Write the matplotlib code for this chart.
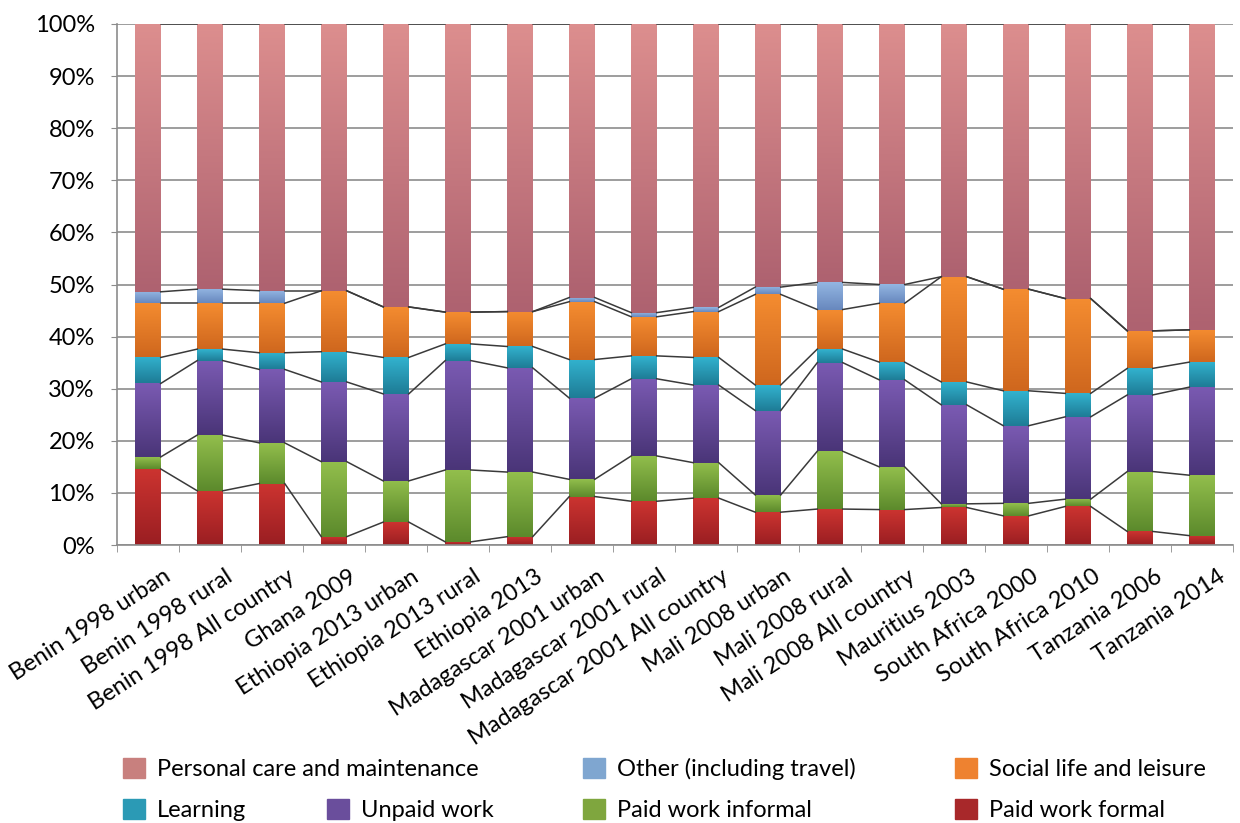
import numpy as np
import matplotlib
matplotlib.use("Agg")
import matplotlib.pyplot as plt
from matplotlib.colors import LinearSegmentedColormap
from matplotlib.patches import Patch
import matplotlib.transforms as mtransforms

plt.rcParams['font.family'] = ['Lato', 'DejaVu Sans']

countries = ['Benin 1998 urban', 'Benin 1998 rural', 'Benin 1998 All country', 'Ghana 2009',
             'Ethiopia 2013 urban', 'Ethiopia 2013 rural', 'Ethiopia 2013',
             'Madagascar 2001 urban', 'Madagascar 2001 rural', 'Madagascar 2001 All country',
             'Mali 2008 urban', 'Mali 2008 rural', 'Mali 2008 All country', 'Mauritius 2003',
             'South Africa 2000', 'South Africa 2010', 'Tanzania 2006', 'Tanzania 2014']

# shares of time, % (bottom to top)
paid_formal = [14.6, 10.4, 11.8, 1.6, 4.4, 0.6, 1.6, 9.3, 8.4, 9.0, 6.3, 6.9, 6.8, 7.2, 5.6, 7.4, 2.6, 1.8]
paid_informal = [2.3, 10.7, 7.8, 14.4, 7.9, 13.8, 12.4, 3.3, 8.7, 6.8, 3.3, 11.1, 8.2, 0.7, 2.4, 1.4, 11.5, 11.6]
unpaid = [14.1, 14.3, 14.1, 15.3, 16.7, 21.0, 20.0, 15.6, 14.8, 14.9, 16.2, 17.0, 16.7, 19.0, 14.9, 15.8, 14.7, 16.9]
learning = [5.0, 2.2, 3.2, 5.8, 7.0, 3.2, 4.1, 7.4, 4.4, 5.3, 4.9, 2.6, 3.4, 4.4, 6.7, 4.5, 5.1, 4.8]
social = [10.4, 8.8, 9.5, 11.7, 9.7, 6.1, 6.7, 11.1, 7.5, 8.8, 17.4, 7.6, 11.3, 20.2, 19.5, 18.2, 7.2, 6.2]
other = [2.2, 2.7, 2.4, 0, 0, 0, 0, 0.8, 0.8, 0.8, 1.4, 5.2, 3.6, 0, 0, 0, 0, 0]
personal = [51.4, 50.9, 51.2, 51.2, 54.3, 55.3, 55.2, 52.5, 55.4, 54.4, 50.5, 49.6, 50.0, 48.5, 50.9, 52.7, 58.9, 58.7]

series = [
    ('Paid work formal', paid_formal, '#A8282A', '#9A1E22', '#CC3430'),
    ('Paid work informal', paid_informal, '#7FA63E', '#5C8A2C', '#92BE4C'),
    ('Unpaid work', unpaid, '#6A4E9C', '#4A3578', '#7A5AB2'),
    ('Learning', learning, '#2B9AB5', '#1E7C96', '#32B2CE'),
    ('Social life and leisure', social, '#EE8230', '#CF671E', '#F48C30'),
    ('Other (including travel)', other, '#7FA6D0', '#6888BE', '#93B6E2'),
    ('Personal care and maintenance', personal, '#C8807E', '#AE6270', '#DC8E8E'),
]

fig = plt.figure(figsize=(12.4, 8.23), dpi=100)
ax = fig.add_axes([117 / 1240, 1 - 545 / 823, 1116 / 1240, 521 / 823])

x = np.arange(len(countries))
w = 0.41
bottom = np.zeros(len(countries))
tops = []
grad = np.linspace(0, 1, 64).reshape(-1, 1)
for name, vals, col, dark, light in series:
    vals = np.array(vals, dtype=float)
    bars = ax.bar(x, vals, w, bottom=bottom, color=col, zorder=2, linewidth=0)
    cmap = LinearSegmentedColormap.from_list(name, [dark, light])
    for p in bars.patches:
        if p.get_height() > 0:
            ax.imshow(grad, extent=(p.get_x(), p.get_x() + p.get_width(),
                                    p.get_y(), p.get_y() + p.get_height()),
                      origin='lower', cmap=cmap, aspect='auto', zorder=2.5,
                      interpolation='bilinear')
    bottom = bottom + vals
    tops.append(bottom.copy())

# series lines between bars
for t in tops:
    for i in range(len(x) - 1):
        ax.plot([x[i] + w / 2, x[i + 1] - w / 2], [t[i], t[i + 1]],
                color='#3a3a3a', lw=1.1, zorder=3)

ax.set_xlim(-0.5, len(x) - 0.5)
ax.set_ylim(0, 100)
ax.set_yticks(np.arange(0, 101, 10))
ax.set_yticklabels([f'{v}%' for v in range(0, 101, 10)], fontsize=17)
ax.yaxis.grid(True, color='#8c8c8c', lw=1.2)
ax.set_axisbelow(True)
ax.tick_params(axis='y', length=4, color='#8c8c8c', pad=12)

ax.set_xticks(x)
ax.set_xticks(np.arange(-0.5, len(x), 1), minor=True)
ax.tick_params(axis='x', which='major', length=0, pad=15)
ax.tick_params(axis='x', which='minor', length=5, color='#8c8c8c')
ax.set_xticklabels(countries, rotation=33, ha='right', rotation_mode='anchor', fontsize=17)
offset = mtransforms.ScaledTranslation(0.15, 0, fig.dpi_scale_trans)
for lab in ax.get_xticklabels():
    lab.set_transform(lab.get_transform() + offset)

for s in ['top', 'right']:
    ax.spines[s].set_visible(False)
for s in ['left', 'bottom']:
    ax.spines[s].set_color('#8c8c8c')
    ax.spines[s].set_linewidth(1.2)

# legend laid out like the original: two rows, fixed columns
leg_pos = {
    'Personal care and maintenance': (123, 769),
    'Other (including travel)': (583, 769),
    'Social life and leisure': (955, 769),
    'Learning': (123, 810),
    'Unpaid work': (327, 810),
    'Paid work informal': (583, 810),
    'Paid work formal': (955, 810),
}
for name, vals, col, dark, light in series:
    px, py = leg_pos[name]
    fig.legend(handles=[Patch(color=col, label=name)], loc='center left',
               bbox_to_anchor=(px / 1240, 1 - py / 823), frameon=False,
               fontsize=17, handlelength=0.95, handleheight=0.95,
               handletextpad=0.5, borderpad=0, borderaxespad=0)

fig.savefig('out.png', dpi=100)
